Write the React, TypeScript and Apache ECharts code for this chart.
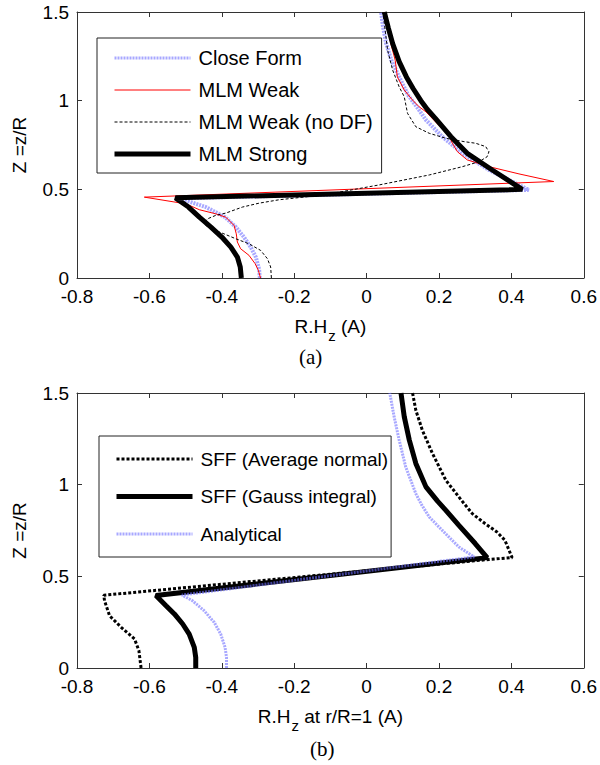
import React, { useEffect, useRef } from "react";
import * as echarts from "echarts";

// ---------- Data: chart (a) — points are [R.Hz, z/R] ----------
const closeForm: number[][] = [
  [-0.295, 0], [-0.297, 0.05], [-0.306, 0.118], [-0.32, 0.174], [-0.339, 0.231], [-0.361, 0.287],
  [-0.391, 0.343], [-0.444, 0.4], [-0.499, 0.437], [-0.515, 0.45], [0.448, 0.497], [0.338, 0.609],
  [0.265, 0.703], [0.209, 0.797], [0.164, 0.891], [0.145, 0.947], [0.115, 1.03], [0.09, 1.134],
  [0.068, 1.23], [0.054, 1.322], [0.045, 1.42], [0.04, 1.5],
];
const mlmWeak: number[][] = [
  [-0.293, 0], [-0.299, 0.043], [-0.308, 0.081], [-0.325, 0.128], [-0.348, 0.165], [-0.357, 0.203],
  [-0.36, 0.249], [-0.366, 0.296], [-0.389, 0.343], [-0.417, 0.362], [-0.462, 0.385], [-0.499, 0.418],
  [-0.614, 0.456], [0.517, 0.544], [0.421, 0.587], [0.338, 0.628], [0.278, 0.666], [0.251, 0.712],
  [0.237, 0.76], [0.228, 0.8], [0.2, 0.86], [0.164, 0.937], [0.145, 0.966], [0.127, 1.003],
  [0.104, 1.06], [0.085, 1.134], [0.079, 1.228], [0.067, 1.322], [0.049, 1.49], [0.047, 1.5],
];
const mlmWeakNoDF: number[][] = [
  [-0.263, 0], [-0.265, 0.062], [-0.274, 0.109], [-0.293, 0.156], [-0.325, 0.193], [-0.361, 0.221],
  [-0.394, 0.249], [-0.43, 0.278], [-0.444, 0.296], [-0.448, 0.315], [-0.439, 0.334], [-0.417, 0.353],
  [-0.389, 0.366], [-0.343, 0.4], [-0.297, 0.422], [-0.242, 0.441], [-0.117, 0.469], [0.035, 0.525],
  [0.173, 0.581], [0.265, 0.628], [0.311, 0.656], [0.333, 0.684], [0.338, 0.712], [0.329, 0.741],
  [0.301, 0.76], [0.269, 0.769], [0.219, 0.788], [0.173, 0.816], [0.136, 0.853], [0.113, 0.929],
  [0.104, 1.022], [0.09, 1.078], [0.072, 1.172], [0.058, 1.285], [0.049, 1.435], [0.045, 1.5],
];
const mlmStrong: number[][] = [
  [-0.346, 0], [-0.349, 0.062], [-0.357, 0.118], [-0.375, 0.174], [-0.4, 0.231], [-0.43, 0.287],
  [-0.462, 0.343], [-0.492, 0.4], [-0.528, 0.452], [0.43, 0.5], [0.347, 0.609], [0.278, 0.703],
  [0.233, 0.797], [0.19, 0.9], [0.168, 0.95], [0.15, 1.0], [0.128, 1.07], [0.11, 1.134],
  [0.09, 1.22], [0.072, 1.322], [0.06, 1.41], [0.049, 1.5],
];

// ---------- Data: chart (b) ----------
const sffAverage: number[][] = [
  [-0.623, 0], [-0.629, 0.095], [-0.641, 0.158], [-0.678, 0.222], [-0.71, 0.285], [-0.724, 0.367],
  [-0.726, 0.397], [0.338, 0.592], [0.402, 0.602], [0.382, 0.697], [0.36, 0.742], [0.327, 0.788],
  [0.292, 0.842], [0.262, 0.915], [0.219, 1.024], [0.182, 1.17], [0.154, 1.297], [0.136, 1.406],
  [0.127, 1.5],
];
const sffGauss: number[][] = [
  [-0.472, 0], [-0.472, 0.058], [-0.476, 0.113], [-0.49, 0.185], [-0.508, 0.24], [-0.531, 0.295],
  [-0.554, 0.34], [-0.582, 0.395], [0.333, 0.602], [0.3, 0.679], [0.255, 0.778], [0.219, 0.86],
  [0.196, 0.91], [0.164, 0.988], [0.136, 1.116], [0.118, 1.243], [0.104, 1.371], [0.095, 1.5],
];
const analytical: number[][] = [
  [-0.387, 0], [-0.387, 0.058], [-0.391, 0.113], [-0.403, 0.185], [-0.421, 0.249], [-0.449, 0.313],
  [-0.481, 0.367], [-0.51, 0.398], [0.297, 0.606], [0.255, 0.66], [0.2, 0.769], [0.173, 0.824],
  [0.152, 0.89], [0.136, 0.951], [0.108, 1.097], [0.09, 1.243], [0.076, 1.371], [0.064, 1.5],
];

const legendA = ["Close Form", "MLM Weak", "MLM Weak (no DF)", "MLM Strong"];
const legendB = ["SFF (Average normal)", "SFF (Gauss integral)", "Analytical"];
const xNameA = "R.H{sub|z} (A)";
const xNameB = "R.H{sub|z} at r/R=1 (A)";
const yName = "Z =z/R";
const xRange = { min: -0.8, max: 0.6, interval: 0.2 };
const yRange = { min: 0, max: 1.5, interval: 0.5 };

const FONT = 'Arial, "Liberation Sans", Helvetica, sans-serif';
const SERIF = '"Times New Roman", "Liberation Serif", serif';
const AX = "#333";
const BLUE = "rgba(110,110,255,0.6)";

function xAxis(grid: number, pos: "bottom" | "top", name?: string) {
  const main = pos === "bottom";
  return {
    type: "value", gridIndex: grid, position: pos, ...xRange,
    axisLine: { show: true, onZero: false, lineStyle: { color: AX, width: 1 } },
    axisTick: { show: true, inside: true, length: 5, lineStyle: { color: AX } },
    axisLabel: { show: main, color: "#000", fontSize: 19, fontFamily: FONT, margin: 9 },
    splitLine: { show: false },
    name: main ? name : undefined,
    nameLocation: "middle",
    nameGap: 32,
    nameTextStyle: {
      color: "#000", fontSize: 19, fontFamily: FONT,
      rich: { sub: { fontSize: 15, fontFamily: FONT, color: "#000", padding: [18, 0, 0, 1] } },
    },
  };
}
function yAxis(grid: number, pos: "left" | "right") {
  const main = pos === "left";
  return {
    type: "value", gridIndex: grid, position: pos, ...yRange,
    axisLine: { show: true, onZero: false, lineStyle: { color: AX, width: 1 } },
    axisTick: { show: true, inside: true, length: 5, lineStyle: { color: AX } },
    axisLabel: { show: main, color: "#000", fontSize: 19, fontFamily: FONT, margin: 8 },
    splitLine: { show: false },
    name: main ? yName : undefined,
    nameLocation: "middle",
    nameGap: 48,
    nameTextStyle: { color: "#000", fontSize: 19, fontFamily: FONT },
  };
}

function line(name: string, data: number[][], idx: number, lineStyle: any) {
  return {
    type: "line", name, data, xAxisIndex: idx, yAxisIndex: idx,
    showSymbol: false, symbol: "none", lineStyle, silent: true,
    itemStyle: { color: lineStyle.color },
  };
}

export default function App() {
  const ref = useRef<HTMLDivElement>(null);
  useEffect(() => {
    if (!ref.current) return;
    const chart = echarts.init(ref.current, undefined, { renderer: "svg" });
    const legendCommon = {
      orient: "vertical", itemWidth: 76, itemHeight: 14, selectedMode: false,
      borderColor: "#222", borderWidth: 1, backgroundColor: "#fff",
      itemStyle: { opacity: 0, borderWidth: 0 },
    };
    chart.setOption({
      animation: false,
      backgroundColor: "#fff",
      grid: [
        { left: 77, top: 12, width: 508, height: 266 },
        { left: 77, top: 393, width: 508, height: 275 },
      ],
      xAxis: [xAxis(0, "bottom", xNameA), xAxis(1, "bottom", xNameB), xAxis(0, "top"), xAxis(1, "top")],
      yAxis: [yAxis(0, "left"), yAxis(1, "left"), yAxis(0, "right"), yAxis(1, "right")],
      legend: [
        {
          ...legendCommon, left: 97, top: 38, padding: [9, 9, 8, 15], itemGap: 10,
          textStyle: { fontFamily: FONT, fontSize: 20, color: "#000", lineHeight: 22, padding: [0, 0, 0, 3] },
          data: [
            { name: legendA[0], lineStyle: { width: 3 } },
            { name: legendA[1], lineStyle: { width: 1 } },
            { name: legendA[2], lineStyle: { width: 1 } },
            { name: legendA[3], lineStyle: { width: 5 } },
          ],
        },
        {
          ...legendCommon, left: 99, top: 436, padding: [12, 3, 12, 15], itemGap: 15.5,
          textStyle: { fontFamily: FONT, fontSize: 19, color: "#000", lineHeight: 22, padding: [0, 0, 0, 3] },
          data: [
            { name: legendB[0], lineStyle: { width: 3 } },
            { name: legendB[1], lineStyle: { width: 5 } },
            { name: legendB[2], lineStyle: { width: 3 } },
          ],
        },
      ],
      series: [
        line(legendA[0], closeForm, 0, { color: BLUE, width: 4, type: [2, 1] }),
        line(legendA[1], mlmWeak, 0, { color: "#ff0000", width: 1 }),
        line(legendA[2], mlmWeakNoDF, 0, { color: "#000", width: 1, type: [3, 2] }),
        line(legendA[3], mlmStrong, 0, { color: "#000", width: 5 }),
        line(legendB[0], sffAverage, 1, { color: "#000", width: 3, type: [3, 2] }),
        line(legendB[1], sffGauss, 1, { color: "#000", width: 5 }),
        line(legendB[2], analytical, 1, { color: BLUE, width: 3, type: [2, 1] }),
      ],
      graphic: [
        { type: "text", left: 299, top: 346, style: { text: "(a)", font: `21px ${SERIF}`, fill: "#000" } },
        { type: "text", left: 310, top: 738, style: { text: "(b)", font: `21px ${SERIF}`, fill: "#000" } },
      ],
    });
    return () => chart.dispose();
  }, []);
  return (
    <div
      ref={ref}
      style={{ position: "absolute", left: 0, top: 0, width: 600, height: 765, background: "#fff" }}
    />
  );
}
